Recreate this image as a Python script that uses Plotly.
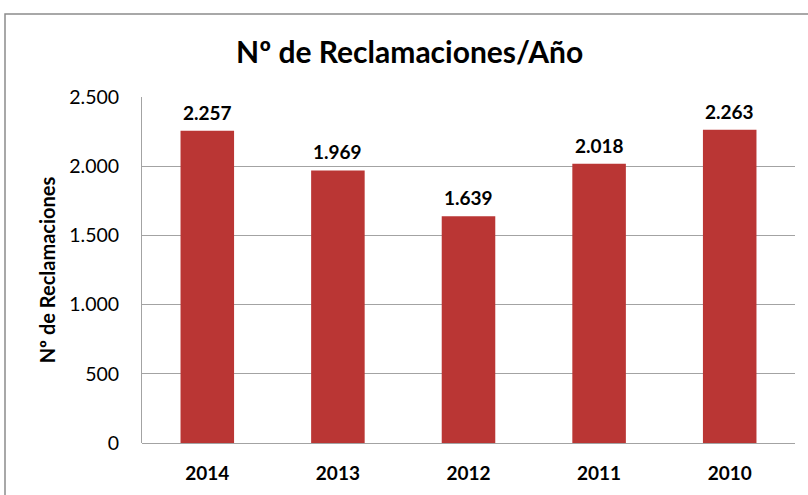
import plotly.graph_objects as go

years = ["2014", "2013", "2012", "2011", "2010"]
reclamaciones = [2257, 1969, 1639, 2018, 2263]
y_ticks = [0, 500, 1000, 1500, 2000, 2500]

FONT = "Lato"

fig = go.Figure()
fig.add_trace(go.Bar(
    x=years,
    y=reclamaciones,
    marker=dict(color="#BA3634", line=dict(width=0)),
    width=0.41,
    hoverinfo="x+y",
))

for i, v in enumerate(reclamaciones):
    fig.add_annotation(
        x=i, y=v, xref="x", yref="y",
        text="<b>" + f"{v:,d}".replace(",", ".") + "</b>",
        showarrow=False, yanchor="bottom", yshift=5,
        font=dict(family=FONT, size=19, color="#000000"),
    )

fig.update_layout(
    width=808,
    height=495,
    separators=",.",
    paper_bgcolor="#FFFFFF",
    plot_bgcolor="#FFFFFF",
    margin=dict(l=142, r=13, t=97, b=52, autoexpand=False),
    showlegend=False,
    title=dict(
        text="<b>Nº de Reclamaciones/Año</b>",
        x=0.507, xanchor="center",
        y=1 - 52 / 495, yanchor="middle",
        font=dict(family=FONT, size=30, color="#000000"),
    ),
    xaxis=dict(
        type="category",
        automargin=False,
        showgrid=False,
        showline=False,
        ticks="",
        tickfont=dict(family=FONT, size=19, color="#000000", weight="bold"),
        ticklabelstandoff=17,
    ),
    yaxis=dict(
        automargin=False,
        range=[0, 2500],
        tickvals=y_ticks,
        tickformat=",d",
        showgrid=True,
        gridcolor="#A3A3A3",
        gridwidth=1,
        showline=True,
        linecolor="#A3A3A3",
        linewidth=1,
        zeroline=True,
        zerolinecolor="#A3A3A3",
        zerolinewidth=1,
        ticks="",
        ticklabelstandoff=18,
        tickfont=dict(family=FONT, size=19.5, color="#000000"),
        title=dict(
            text="<b>Nº de Reclamaciones</b>",
            font=dict(family=FONT, size=20, color="#000000"),
            standoff=8,
        ),
    ),
    shapes=[dict(
        type="rect", xref="paper", yref="paper",
        x0=-137 / 653, x1=1.05, y0=-0.2, y1=1 + 83 / 346,
        line=dict(color="#8C8C8C", width=1.5),
        fillcolor="rgba(0,0,0,0)",
        layer="below",
    )],
)

fig.write_html(
    "out.html",
    config={"displayModeBar": False},
    post_script="document.body.style.margin='0px';document.body.style.padding='0px';",
)
